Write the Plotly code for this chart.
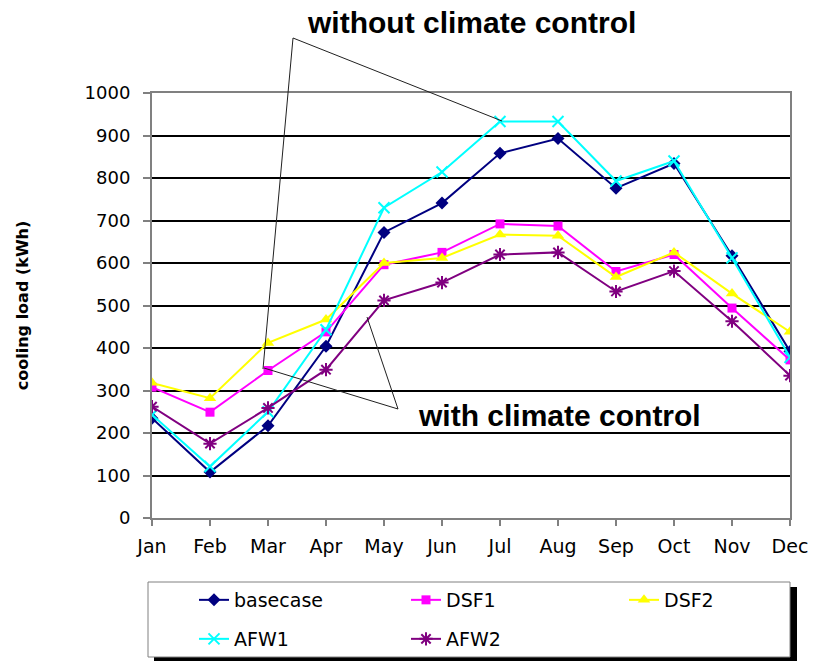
import plotly.graph_objects as go

# Monthly cooling load (kWh) for each facade variant
months = ["Jan", "Feb", "Mar", "Apr", "May", "Jun",
          "Jul", "Aug", "Sep", "Oct", "Nov", "Dec"]

basecase = [235, 108, 217, 404, 672, 741, 858, 893, 776, 834, 617, 392]
dsf1 = [308, 249, 347, 438, 596, 625, 692, 687, 580, 620, 494, 372]
dsf2 = [318, 282, 412, 467, 600, 612, 667, 664, 567, 625, 528, 438]
afw1 = [243, 121, 250, 443, 730, 814, 933, 933, 793, 840, 612, 378]
afw2 = [262, 175, 259, 349, 512, 554, 620, 625, 533, 581, 463, 335]

tick_font = dict(family="DejaVu Sans", size=18, color="#000000")

# plot-area edges in page pixels, used to place layout-only decorations
X0, X1, Y0, Y1 = 152, 790, 518, 93


def px(x):
    return (x - X0) / (X1 - X0)


def py(y):
    return (Y0 - y) / (Y0 - Y1)


fig = go.Figure()

series = [
    ("basecase", basecase, "#000080", dict(symbol="diamond", size=10), "legend"),
    ("DSF1", dsf1, "#FF00FF", dict(symbol="square", size=9), "legend"),
    ("DSF2", dsf2, "#FFFF00", dict(symbol="triangle-up", size=11), "legend3"),
    ("AFW1", afw1, "#00FFFF", dict(symbol="x-thin", size=11), "legend2"),
    ("AFW2", afw2, "#800080", dict(symbol="asterisk", size=11), "legend2"),
]

for name, vals, color, mk, leg in series:
    marker = dict(color=color, **mk)
    if mk["symbol"] in ("x-thin", "asterisk"):
        marker["line"] = dict(color=color, width=2)
    else:
        marker["line"] = dict(width=0)
    fig.add_trace(go.Scatter(
        x=months, y=vals, name=name, mode="lines+markers",
        line=dict(color=color, width=2), marker=marker, legend=leg,
    ))

legend_common = dict(
    orientation="h", xanchor="left", yanchor="middle",
    bgcolor="rgba(0,0,0,0)", borderwidth=0,
    font=dict(family="DejaVu Sans", size=19, color="#000000"),
    entrywidth=167, entrywidthmode="pixels",
)

shapes = [
    # legend frame with drop shadow
    dict(type="rect", xref="paper", yref="paper", layer="below",
         x0=px(154), x1=px(797), y0=py(661), y1=py(587),
         fillcolor="#000000", line=dict(width=0)),
    dict(type="rect", xref="paper", yref="paper", layer="below",
         x0=px(148), x1=px(790), y0=py(657), y1=py(582),
         fillcolor="#FFFFFF", line=dict(color="#808080", width=1)),
]

# callout leader lines
for (xa, ya), (xb, yb) in [((293, 38), (263, 369)), ((293, 38), (502, 121)),
                           ((398, 409), (264, 368)), ((398, 409), (367, 317))]:
    shapes.append(dict(type="line", xref="paper", yref="paper", layer="above",
                       x0=px(xa), y0=py(ya), x1=px(xb), y1=py(yb),
                       line=dict(color="#202020", width=1)))

callout_font = dict(family="Liberation Sans", size=30, color="#000000")
annotations = [
    dict(text="<b>without climate control</b>", xref="paper", yref="paper",
         x=px(472), y=py(22), xanchor="center", yanchor="middle",
         showarrow=False, font=callout_font),
    dict(text="<b>with climate control</b>", xref="paper", yref="paper",
         x=px(559), y=py(415), xanchor="center", yanchor="middle",
         showarrow=False, font=callout_font),
]

fig.update_layout(
    width=816, height=662,
    margin=dict(l=152, r=26, t=93, b=144, autoexpand=False),
    paper_bgcolor="#FFFFFF", plot_bgcolor="#FFFFFF",
    showlegend=True,
    legend=dict(x=px(194), y=py(600), **legend_common),
    legend3=dict(x=px(624), y=py(600), **legend_common),
    legend2=dict(x=px(194), y=py(639), **legend_common),
    shapes=shapes, annotations=annotations,
    xaxis=dict(
        type="category", categoryarray=months, range=[0, 11],
        showgrid=False, zeroline=False,
        showline=True, linecolor="#808080", linewidth=2, mirror=True,
        ticks="outside", ticklen=6, tickcolor="#808080", tickwidth=1.5,
        ticklabelstandoff=4,
        tickfont=dict(family="DejaVu Sans", size=19, color="#000000"),
    ),
    yaxis=dict(
        range=[0, 1000], dtick=100, tick0=0,
        showgrid=True, gridcolor="#000000", gridwidth=1.5, zeroline=False,
        showline=True, linecolor="#808080", linewidth=2, mirror=True,
        ticks="outside", ticklen=7, tickcolor="#808080", tickwidth=1.5,
        ticklabelstandoff=9, tickfont=tick_font,
        title=dict(text="<b>cooling load (kWh)</b>", standoff=52,
                   font=dict(family="DejaVu Sans", size=16, color="#000000")),
    ),
)

fig.write_html("out.html")
